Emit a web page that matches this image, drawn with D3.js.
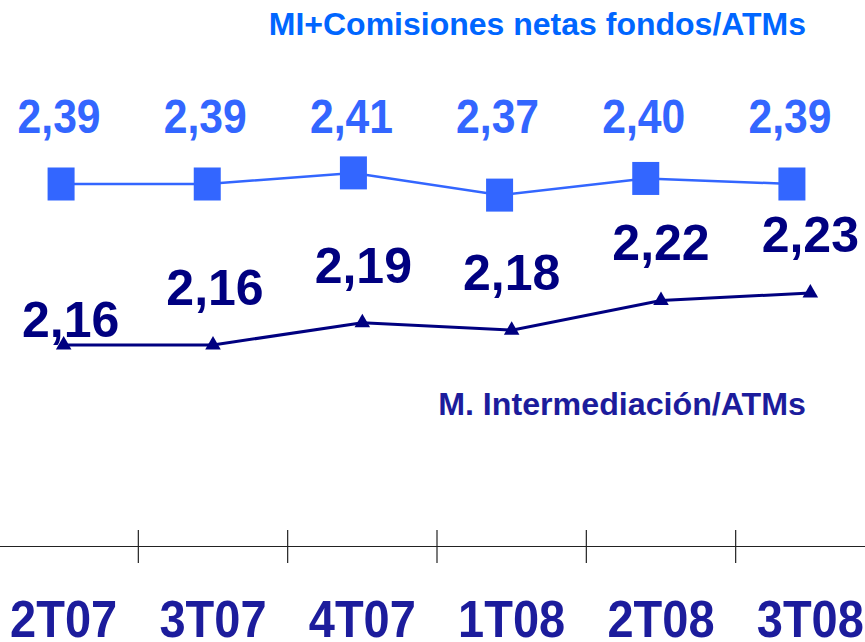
<!DOCTYPE html>
<html>
<head>
<meta charset="utf-8">
<script src="https://cdn.jsdelivr.net/npm/d3@7"></script>
<style>
  body { margin: 0; background: #fff; }
  svg text { font-family: Arial, "Liberation Sans", sans-serif; font-weight: bold; }
</style>
</head>
<body>
<svg width="865" height="642"></svg>
<script>
// data
var periods = ["2T07", "3T07", "4T07", "1T08", "2T08", "3T08"];
var miComisiones = [2.39, 2.39, 2.41, 2.37, 2.40, 2.39];
var miIntermediacion = [2.16, 2.16, 2.19, 2.18, 2.22, 2.23];
var titleTop = "MI+Comisiones netas fondos/ATMs";
var titleLow = "M. Intermediación/ATMs";

var fmt = function (v) { return d3.format(".2f")(v).replace(".", ","); };

var svg = d3.select("svg"),
    width = +svg.attr("width"),
    height = +svg.attr("height");

var x = d3.scaleBand().domain(periods).range([-11, 885]);
var xTop = d3.scaleBand().domain(periods).range([-12, 865]);

var yTop = d3.scaleLinear().domain([2.37, 2.41]).range([195.1, 172.9]);
var yLow = d3.scaleLinear().domain([2.16, 2.23]).range([345, 293]);

// axis
var axis = d3.axisBottom(x).tickSize(0).tickFormat("");
var gAxis = svg.append("g").attr("transform", "translate(0,546)").call(axis);
gAxis.select(".domain").attr("stroke", "#222").attr("stroke-width", 1.2);

// ticks between categories
svg.append("g")
    .selectAll("line")
    .data(periods.slice(1))
    .enter()
    .append("line")
    .attr("x1", function (d) { return x(d); })
    .attr("x2", function (d) { return x(d); })
    .attr("y1", 530)
    .attr("y2", 563)
    .attr("stroke", "#222")
    .attr("stroke-width", 1.2);

svg.append("g")
    .selectAll("text")
    .data(periods)
    .enter()
    .append("text")
    .attr("transform", function (d) {
        return "translate(" + (x(d) + x.bandwidth() / 2) + ",637) scale(0.94,1.04)";
    })
    .attr("text-anchor", "middle")
    .attr("font-size", 50)
    .attr("fill", "#1c1c9c")
    .text(function (d) { return d; });

// top series
var lineTop = d3.line()
    .x(function (d, i) { return xTop(periods[i]) + xTop.bandwidth() / 2; })
    .y(function (d) { return yTop(d); });

svg.append("path")
    .datum(miComisiones)
    .attr("d", lineTop)
    .attr("fill", "none")
    .attr("stroke", "#3366ff")
    .attr("stroke-width", 2.5);

svg.append("g")
    .selectAll("rect")
    .data(miComisiones)
    .enter()
    .append("rect")
    .attr("x", function (d, i) { return xTop(periods[i]) + xTop.bandwidth() / 2 - 13.5; })
    .attr("y", function (d) { return yTop(d) - 16.5; })
    .attr("width", 27)
    .attr("height", 33)
    .attr("fill", "#3366ff");

svg.append("g")
    .selectAll("text")
    .data(miComisiones)
    .enter()
    .append("text")
    .attr("transform", function (d, i) {
        return "translate(" + (xTop(periods[i]) + xTop.bandwidth() / 2 - 2) + ",133) scale(0.87,1)";
    })
    .attr("text-anchor", "middle")
    .attr("font-size", 49)
    .attr("fill", "#3366ff")
    .text(fmt);

// low series
var lineLow = d3.line()
    .x(function (d, i) { return x(periods[i]) + x.bandwidth() / 2; })
    .y(function (d) { return yLow(d); });

svg.append("path")
    .datum(miIntermediacion)
    .attr("d", lineLow)
    .attr("fill", "none")
    .attr("stroke", "#000080")
    .attr("stroke-width", 3);

svg.append("g")
    .selectAll("path")
    .data(miIntermediacion)
    .enter()
    .append("path")
    .attr("d", d3.symbol().type(d3.symbolTriangle).size(105))
    .attr("transform", function (d, i) {
        return "translate(" + (x(periods[i]) + x.bandwidth() / 2) + "," + yLow(d) + ")";
    })
    .attr("fill", "#000080");

// label nudges (first label sits on its marker)
var lowDx = [7, 2, 1, 0, 0, 0];
var lowDy = [-8, -40, -40, -40, -40, -41];

svg.append("g")
    .selectAll("text")
    .data(miIntermediacion)
    .enter()
    .append("text")
    .attr("x", function (d, i) { return x(periods[i]) + x.bandwidth() / 2 + lowDx[i]; })
    .attr("y", function (d, i) { return yLow(d) + lowDy[i]; })
    .attr("text-anchor", "middle")
    .attr("font-size", 50)
    .attr("fill", "#000080")
    .text(fmt);

// series titles
svg.append("text")
    .attr("x", 806)
    .attr("y", 35)
    .attr("text-anchor", "end")
    .attr("font-size", 32)
    .attr("fill", "#0066ff")
    .text(titleTop);

svg.append("text")
    .attr("x", 806)
    .attr("y", 415)
    .attr("text-anchor", "end")
    .attr("font-size", 32.2)
    .attr("fill", "#1c1c9c")
    .text(titleLow);
</script>
</body>
</html>
